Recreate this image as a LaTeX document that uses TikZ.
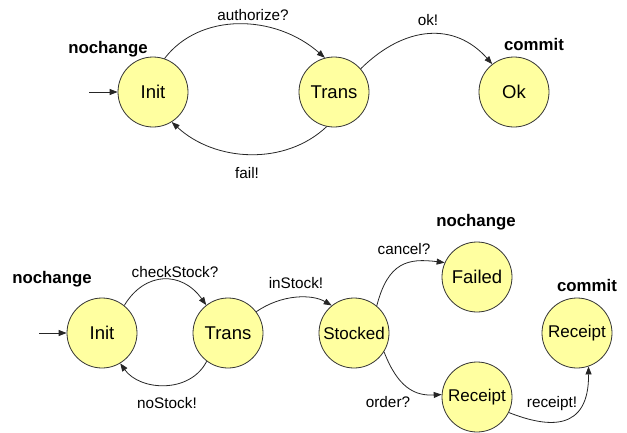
\documentclass[tikz,border=0pt]{standalone}
\usepackage{fontspec}
\setmainfont{Liberation Sans}
\usetikzlibrary{arrows.meta}
\definecolor{statefill}{HTML}{FFFFA0}
\definecolor{edgegray}{HTML}{333333}
\tikzset{
  state/.style={circle, draw=edgegray, line width=0.8pt, fill=statefill,
    minimum size=70pt, inner sep=0pt, font=\fontsize{18.5}{21}\selectfont},
  widestate/.style={state, font=\fontsize{17}{20}\selectfont},
  trans/.style={draw=black!85, line width=0.8pt,
    -{Triangle[length=8pt,width=6pt]}},
  elabel/.style={inner sep=0pt, font=\fontsize{15.3}{18}\selectfont},
  tag/.style={inner sep=0pt, font=\fontsize{16.8}{19}\selectfont\bfseries},
}
\begin{document}
\begin{tikzpicture}[x=1pt, y=-1pt]
\useasboundingbox (0,0) rectangle (627,432);

% ---- payment protocol ----
\node[state] (pinit)  at (153,92) {Init};
\node[state] (ptrans) at (334,92) {Trans};
\node[state] (pok)    at (514,92) {Ok};
\coordinate (pstart) at (89,92);

\node[tag] (ptag1) at (108,49) {nochange};
\node[tag] (ptag2) at (534,44) {commit};

\draw[trans] (pstart) -- (pinit.west);
\draw[trans] (pinit.71) .. controls (200,12) and (275,14) .. (ptrans.105);
\draw[trans] (ptrans.258) .. controls (285,166) and (215,162) .. (pinit.-58);
\draw[trans] (ptrans.41) .. controls (405,25) and (455,22) .. (pok.128);

\node[elabel] (lauth) at (253,15) {authorize?};
\node[elabel] (lfail) at (247,173) {fail!};
\node[elabel] (lok)   at (428,20) {ok!};

% ---- ordering protocol ----
\node[state] (oinit)    at (102,333) {Init};
\node[state] (otrans)   at (228,333) {Trans};
\node[widestate] (ostocked) at (354,333) {Stocked};
\node[state] (ofailed)  at (477,277) {Failed};
\node[widestate] (orecA)    at (477,397) {Receipt};
\node[widestate] (orecB)    at (577,333) {Receipt};
\coordinate (ostart) at (39,333);

\node[tag] (otag1) at (52,279)  {nochange};
\node[tag] (otag2) at (476,222) {nochange};
\node[tag] (otag3) at (587,285) {commit};

\draw[trans] (ostart) -- (oinit.west);
\draw[trans] (oinit.51) .. controls (145,271) and (182,271) .. (otrans.128);
\draw[trans] (otrans.-127) .. controls (190,394) and (140,391) .. (oinit.-59);
\draw[trans] (otrans.37) .. controls (282,294) and (312,294) .. (ostocked.129);
\draw[trans] (ostocked.50) .. controls (388,262) and (408,258) .. (ofailed.156);
\draw[trans] (ostocked.-32) .. controls (398,388) and (415,396) .. (orecA.176);
\draw[trans] (orecA.-26) .. controls (548,428) and (589,432) .. (orecB.-71);

\node[elabel] (lcheck)   at (175,272) {checkStock?};
\node[elabel] (lnostock) at (167,403) {noStock!};
\node[elabel] (linstock) at (296,283) {inStock!};
\node[elabel] (lcancel)  at (404,249) {cancel?};
\node[elabel] (lorder)   at (388,402) {order?};
\node[elabel] (lreceipt) at (552,404) {receipt!};
\end{tikzpicture}
\end{document}
